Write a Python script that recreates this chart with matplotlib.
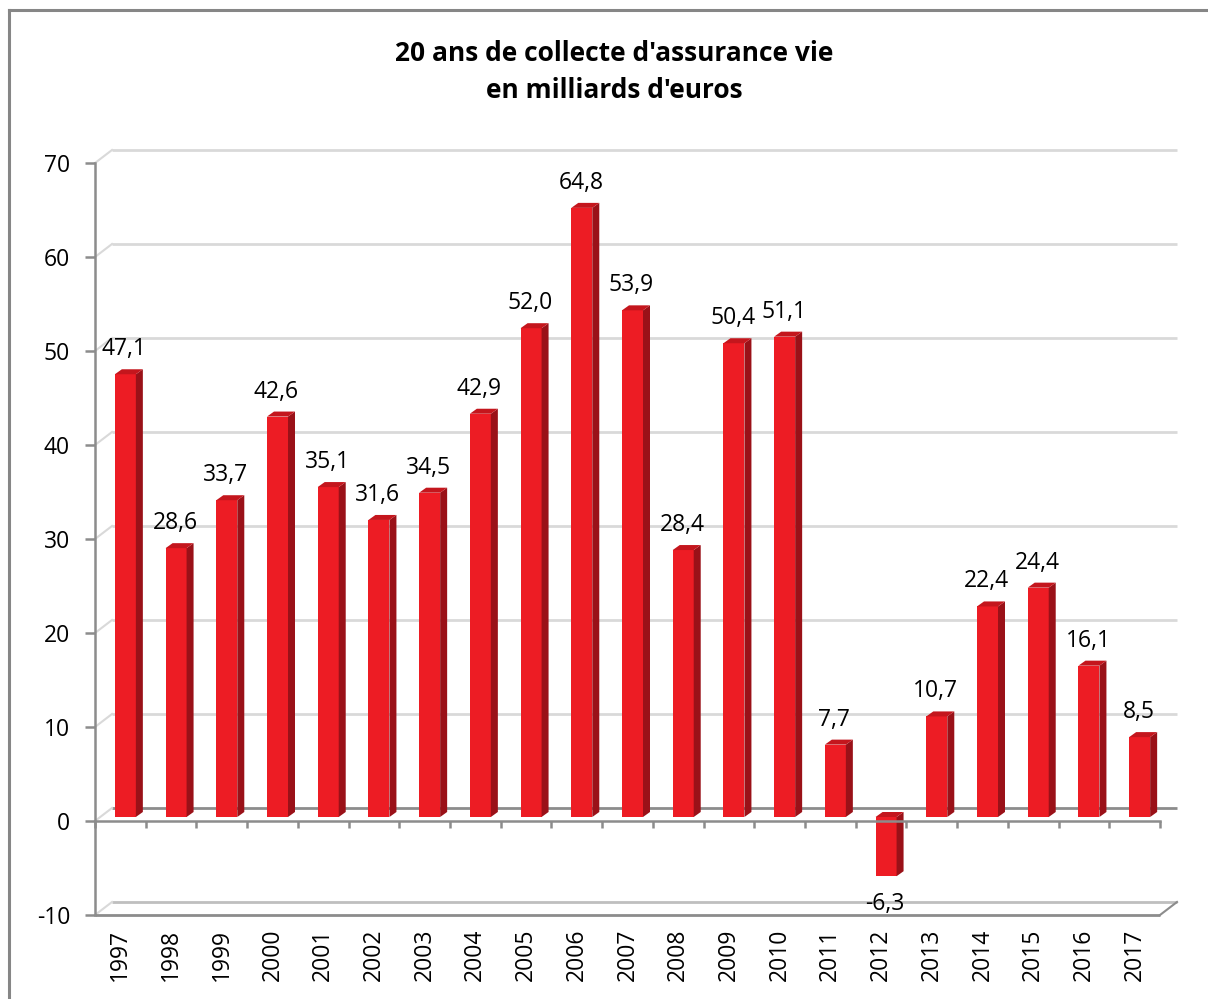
import matplotlib
matplotlib.use('Agg')
import matplotlib.pyplot as plt
from matplotlib.patches import Polygon
from matplotlib.lines import Line2D

plt.rcParams['font.family'] = ['Open Sans', 'DejaVu Sans']
plt.rcParams['axes.unicode_minus'] = False

# Data
years = ['1997', '1998', '1999', '2000', '2001', '2002', '2003', '2004',
         '2005', '2006', '2007', '2008', '2009', '2010', '2011', '2012',
         '2013', '2014', '2015', '2016', '2017']
collecte = [47.1, 28.6, 33.7, 42.6, 35.1, 31.6, 34.5, 42.9, 52.0, 64.8,
            53.9, 28.4, 50.4, 51.1, 7.7, -6.3, 10.7, 22.4, 24.4, 16.1, 8.5]
yticks = [-10, 0, 10, 20, 30, 40, 50, 60, 70]
title = "20 ans de collecte d'assurance vie\nen milliards d'euros"

# Figure geometry (pixels)
W, H = 1208, 999
ax_l, ax_r, ax_t, ax_b = 95, 1160, 163, 915
xlim = (-0.5, len(years) - 0.5)
ylim = (-10, 70)
ux = (xlim[1] - xlim[0]) / (ax_r - ax_l)   # data units per pixel
uy = (ylim[1] - ylim[0]) / (ax_b - ax_t)

fig = plt.figure(figsize=(W / 100, H / 100), dpi=100, facecolor='white')
ax = fig.add_axes([ax_l / W, 1 - ax_b / H, (ax_r - ax_l) / W, (ax_b - ax_t) / H])
ax.set_xlim(xlim)
ax.set_ylim(ylim)
ax.set_facecolor('none')

grey = '#8c8c8c'
light = '#d9d9d9'

# back wall gridlines, shifted up-right
wx, wy = 17 * ux, 13 * uy
for yv in yticks:
    if yv == -10:
        col, lw = '#bfbfbf', 2.0
    elif yv == 0:
        col, lw = grey, 2.0
    else:
        col, lw = light, 2.0
    ax.plot([xlim[0] + wx, xlim[1] + wx], [yv + wy, yv + wy], color=col,
            lw=lw, clip_on=False, zorder=1, solid_capstyle='butt')
    ax.plot([xlim[0], xlim[0] + wx], [yv, yv + wy], color=light, lw=1.5,
            clip_on=False, zorder=1)
# floor front line and right diagonal
ax.plot([xlim[0], xlim[1]], [ylim[0], ylim[0]], color=grey, lw=2.0,
        clip_on=False, zorder=2, solid_capstyle='butt')
ax.plot([xlim[1], xlim[1] + wx], [ylim[0], ylim[0] + wy], color=grey, lw=1.5,
        clip_on=False, zorder=2)

# bars (front face) + side and top faces
bx, by = 5 * ux, 4 * uy
dx, dy = 7 * ux, 5 * uy
bw = 21 * ux
xs = [i + bx for i in range(len(years))]
bars = ax.bar(xs, collecte, width=bw, bottom=by, color='#ed1c24',
              linewidth=0, zorder=4)
for p in bars.patches:
    x0, y0 = p.get_x(), p.get_y()
    x1, y1 = x0 + p.get_width(), y0 + p.get_height()
    ylo, yhi = min(y0, y1), max(y0, y1)
    side = Polygon([(x1, ylo), (x1 + dx, ylo + dy), (x1 + dx, yhi + dy), (x1, yhi)],
                   closed=True, facecolor='#9a1118', edgecolor='none', zorder=4)
    top = Polygon([(x0, yhi), (x1, yhi), (x1 + dx, yhi + dy), (x0 + dx, yhi + dy)],
                  closed=True, facecolor='#c4161d', edgecolor='none', zorder=4)
    ax.add_patch(side)
    ax.add_patch(top)

# data labels
for x, v in zip(xs, collecte):
    txt = f"{v:.1f}".replace('.', ',')
    off = 18 if v >= 0 else -20
    ax.annotate(txt, (x - 1 * ux, v + by), xytext=(0, off), textcoords='offset points',
                ha='center', va='center', fontsize=16.5, color='black', zorder=6)

# axes styling
for s in ['top', 'right']:
    ax.spines[s].set_visible(False)
ax.spines['left'].set_color(grey)
ax.spines['left'].set_linewidth(1.8)
ax.spines['bottom'].set_position(('data', 0))
ax.spines['bottom'].set_color(grey)
ax.spines['bottom'].set_linewidth(1.8)
ax.spines['bottom'].set_zorder(5)

ax.set_yticks(yticks)
ax.tick_params(axis='y', length=7, width=1.8, color=grey, pad=11,
               labelsize=16.5, labelcolor='black')
ax.set_xticks([i - 0.5 for i in range(len(years) + 1)])
ax.set_xticklabels([])
ax.tick_params(axis='x', length=5, width=1.8, color=grey)

sec = ax.secondary_xaxis(0)
sec.set_xticks(range(len(years)))
sec.set_xticklabels(years, rotation=90)
sec.tick_params(axis='x', length=0, pad=10, labelsize=16.5)
sec.spines['bottom'].set_visible(False)

# title
fig.text(614 / W, 1 - 72 / H, title, ha='center', va='center', fontsize=19,
         fontweight='bold', linespacing=1.5)

# chart border (left and top)
fig.add_artist(Line2D([9 / W, 9 / W], [0, 1 - 10 / H], color='#868686', lw=2.2,
                      transform=fig.transFigure))
fig.add_artist(Line2D([9 / W, 1], [1 - 10 / H, 1 - 10 / H], color='#868686', lw=2.2,
                      transform=fig.transFigure))

fig.savefig('out.png', dpi=100, facecolor='white')
